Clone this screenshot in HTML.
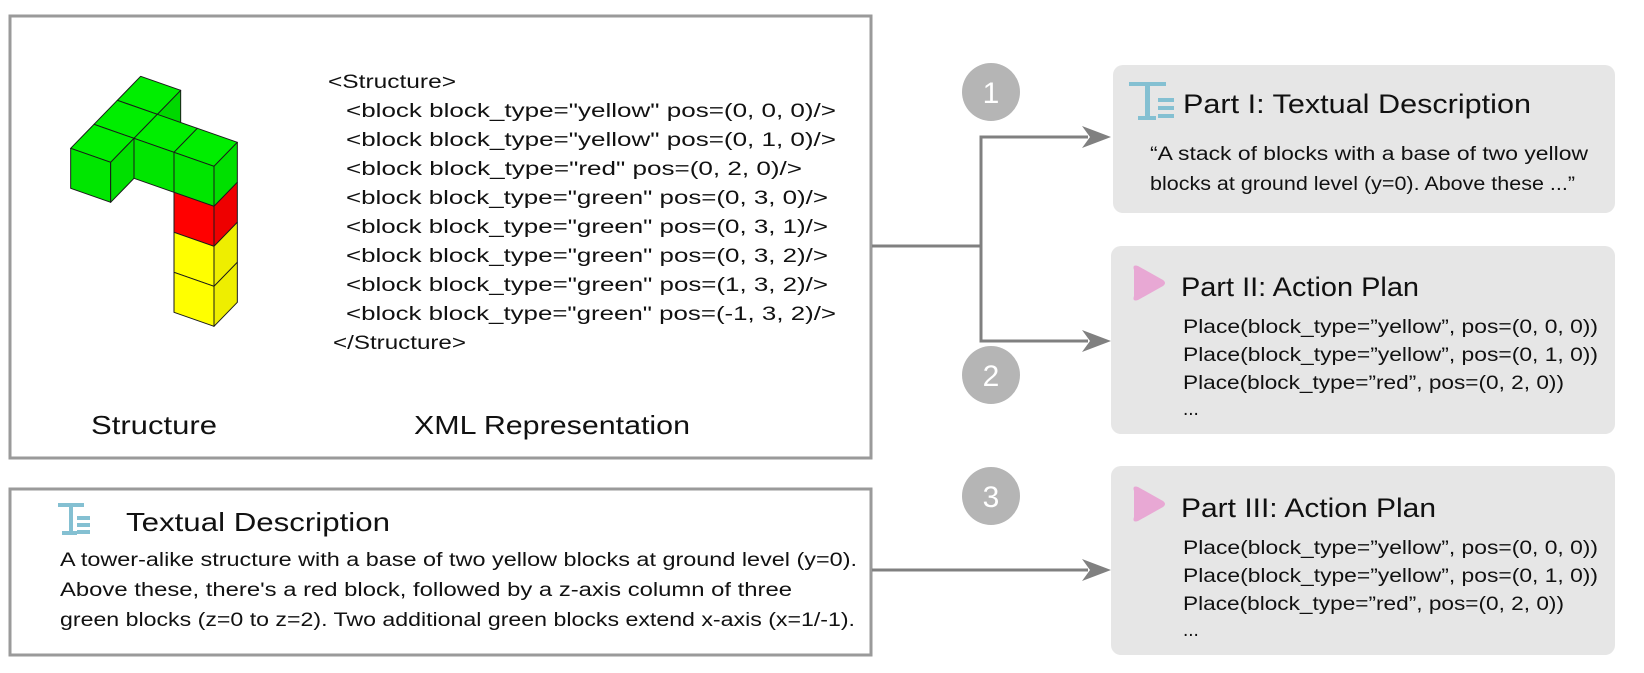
<!DOCTYPE html>
<html><head><meta charset="utf-8"><style>
html,body{margin:0;padding:0;background:#fff;}
svg{display:block;}
text{font-family:"Liberation Sans",sans-serif;fill:#111;}
</style></head><body>
<svg width="1644" height="673" viewBox="0 0 1644 673" xmlns="http://www.w3.org/2000/svg">
<!-- left boxes -->
<rect x="10" y="16" width="861" height="442" fill="#fff" stroke="#9a9a9a" stroke-width="3"/>
<rect x="10" y="489" width="861" height="166" fill="#fff" stroke="#9a9a9a" stroke-width="3"/>

<!-- blocks -->
<g transform="translate(50,60) scale(0.33333)" stroke="#1a1a1a" stroke-width="3" stroke-linejoin="round">
<polygon points="392,91 392,211 322,283 322,163" fill="#00d800"/>
<polygon points="202,121 322,163 392,91 272,49" fill="#00ee00"/>
<polygon points="132,193 252,235 322,163 202,121" fill="#00ee00"/>
<polygon points="62,265 182,307 252,235 132,193" fill="#00ee00"/>
<polygon points="252,235 372,277 442,205 322,163" fill="#00ee00"/>
<polygon points="372,277 492,319 562,247 442,205" fill="#00ee00"/>
<polygon points="62,265 182,307 182,427 62,385" fill="#00e600"/>
<polygon points="182,307 252,235 252,355 182,427" fill="#00e000"/>
<polygon points="252,235 372,277 372,397 252,355" fill="#00e600"/>
<polygon points="372,277 492,319 492,439 372,397" fill="#00e600"/>
<polygon points="372,397 492,439 492,559 372,517" fill="#ff0000"/>
<polygon points="372,517 492,559 492,679 372,637" fill="#ffff00"/>
<polygon points="372,637 492,679 492,799 372,757" fill="#ffff00"/>
<polygon points="492,319 562,247 562,367 492,439" fill="#00e000"/>
<polygon points="492,439 562,367 562,487 492,559" fill="#ee0000"/>
<polygon points="492,559 562,487 562,607 492,679" fill="#eeee00"/>
<polygon points="492,679 562,607 562,727 492,799" fill="#eeee00"/>
</g>

<!-- XML -->
<g font-size="19">
<text x="328" y="88" textLength="128" lengthAdjust="spacingAndGlyphs">&lt;Structure&gt;</text>
<text x="346" y="117" textLength="490" lengthAdjust="spacingAndGlyphs">&lt;block block_type="yellow" pos=(0, 0, 0)/&gt;</text>
<text x="346" y="146" textLength="490" lengthAdjust="spacingAndGlyphs">&lt;block block_type="yellow" pos=(0, 1, 0)/&gt;</text>
<text x="346" y="175" textLength="456" lengthAdjust="spacingAndGlyphs">&lt;block block_type="red" pos=(0, 2, 0)/&gt;</text>
<text x="346" y="204" textLength="482" lengthAdjust="spacingAndGlyphs">&lt;block block_type="green" pos=(0, 3, 0)/&gt;</text>
<text x="346" y="233" textLength="482" lengthAdjust="spacingAndGlyphs">&lt;block block_type="green" pos=(0, 3, 1)/&gt;</text>
<text x="346" y="262" textLength="482" lengthAdjust="spacingAndGlyphs">&lt;block block_type="green" pos=(0, 3, 2)/&gt;</text>
<text x="346" y="291" textLength="482" lengthAdjust="spacingAndGlyphs">&lt;block block_type="green" pos=(1, 3, 2)/&gt;</text>
<text x="346" y="320" textLength="490" lengthAdjust="spacingAndGlyphs">&lt;block block_type="green" pos=(-1, 3, 2)/&gt;</text>
<text x="333" y="349" textLength="133" lengthAdjust="spacingAndGlyphs">&lt;/Structure&gt;</text>
</g>
<text x="91" y="434" font-size="26" textLength="126" lengthAdjust="spacingAndGlyphs">Structure</text>
<text x="414" y="434" font-size="26" textLength="276" lengthAdjust="spacingAndGlyphs">XML Representation</text>

<!-- bottom-left text -->
<g fill="#84c0d2">
<rect x="58" y="503" width="26" height="4"/><rect x="69" y="503" width="4" height="32"/><rect x="62" y="531" width="15" height="4"/>
<rect x="77" y="516" width="13" height="4"/><rect x="77" y="523" width="13" height="4"/><rect x="77" y="530" width="13" height="4"/>
</g>
<text x="126" y="531" font-size="26" textLength="264" lengthAdjust="spacingAndGlyphs">Textual Description</text>
<g font-size="19">
<text x="60" y="566" textLength="797" lengthAdjust="spacingAndGlyphs">A tower-alike structure with a base of two yellow blocks at ground level (y=0).</text>
<text x="60" y="596" textLength="732" lengthAdjust="spacingAndGlyphs">Above these, there's a red block, followed by a z-axis column of three</text>
<text x="60" y="626" textLength="795" lengthAdjust="spacingAndGlyphs">green blocks (z=0 to z=2). Two additional green blocks extend x-axis (x=1/-1).</text>
</g>

<!-- connectors -->
<g stroke="#808080" stroke-width="3" fill="none">
<polyline points="872,246 981,246"/>
<polyline points="1088,137 981,137 981,341 1088,341"/>
<polyline points="872,570 1088,570"/>
</g>
<g fill="#808080">
<polygon points="1111,137 1082,126 1090,137 1082,148"/>
<polygon points="1111,341 1082,330 1090,341 1082,352"/>
<polygon points="1111,570 1082,559 1090,570 1082,581"/>
</g>

<!-- circles -->
<g fill="#b5b5b5">
<circle cx="991" cy="92" r="29"/><circle cx="991" cy="375" r="29"/><circle cx="991" cy="496" r="29"/>
</g>
<g fill="#fff" font-size="30" text-anchor="middle">
<text x="991" y="103" style="fill:#fff">1</text>
<text x="991" y="386" style="fill:#fff">2</text>
<text x="991" y="507" style="fill:#fff">3</text>
</g>

<!-- right boxes -->
<rect x="1113" y="65" width="502" height="148" rx="10" fill="#e6e6e6"/>
<rect x="1111" y="246" width="504" height="188" rx="10" fill="#e6e6e6"/>
<rect x="1111" y="466" width="504" height="189" rx="10" fill="#e6e6e6"/>

<g fill="#84c0d2">
<rect x="1129" y="82" width="37" height="4"/><rect x="1145" y="82" width="5" height="38"/><rect x="1138" y="116" width="18" height="4"/>
<rect x="1158" y="98" width="16" height="4"/><rect x="1158" y="106" width="16" height="4"/><rect x="1158" y="114" width="16" height="4"/>
</g>
<text x="1183" y="113" font-size="27" textLength="348" lengthAdjust="spacingAndGlyphs">Part I: Textual Description</text>
<text x="1150" y="160" font-size="19" textLength="438" lengthAdjust="spacingAndGlyphs">“A stack of blocks with a base of two yellow</text>
<text x="1150" y="190" font-size="19" textLength="425" lengthAdjust="spacingAndGlyphs">blocks at  ground level (y=0). Above these ...”</text>

<path d="M1134,270 Q1132,264 1138,266 L1163,280 Q1167,283 1163,286 L1138,300 Q1132,302 1134,296 Z" fill="#e8a8d4"/>
<text x="1181" y="296" font-size="27" textLength="238" lengthAdjust="spacingAndGlyphs">Part II: Action Plan</text>
<g font-size="19">
<text x="1183" y="333" textLength="415" lengthAdjust="spacingAndGlyphs">Place(block_type=”yellow”, pos=(0, 0, 0))</text>
<text x="1183" y="361" textLength="415" lengthAdjust="spacingAndGlyphs">Place(block_type=”yellow”, pos=(0, 1, 0))</text>
<text x="1183" y="389" textLength="381" lengthAdjust="spacingAndGlyphs">Place(block_type=”red”, pos=(0, 2, 0))</text>
<text x="1183" y="415">...</text>
</g>

<path d="M1134,491 Q1132,485 1138,487 L1163,501 Q1167,504 1163,507 L1138,521 Q1132,523 1134,517 Z" fill="#e8a8d4"/>
<text x="1181" y="517" font-size="27" textLength="255" lengthAdjust="spacingAndGlyphs">Part III: Action Plan</text>
<g font-size="19">
<text x="1183" y="554" textLength="415" lengthAdjust="spacingAndGlyphs">Place(block_type=”yellow”, pos=(0, 0, 0))</text>
<text x="1183" y="582" textLength="415" lengthAdjust="spacingAndGlyphs">Place(block_type=”yellow”, pos=(0, 1, 0))</text>
<text x="1183" y="610" textLength="381" lengthAdjust="spacingAndGlyphs">Place(block_type=”red”, pos=(0, 2, 0))</text>
<text x="1183" y="636">...</text>
</g>
</svg>
</body></html>
